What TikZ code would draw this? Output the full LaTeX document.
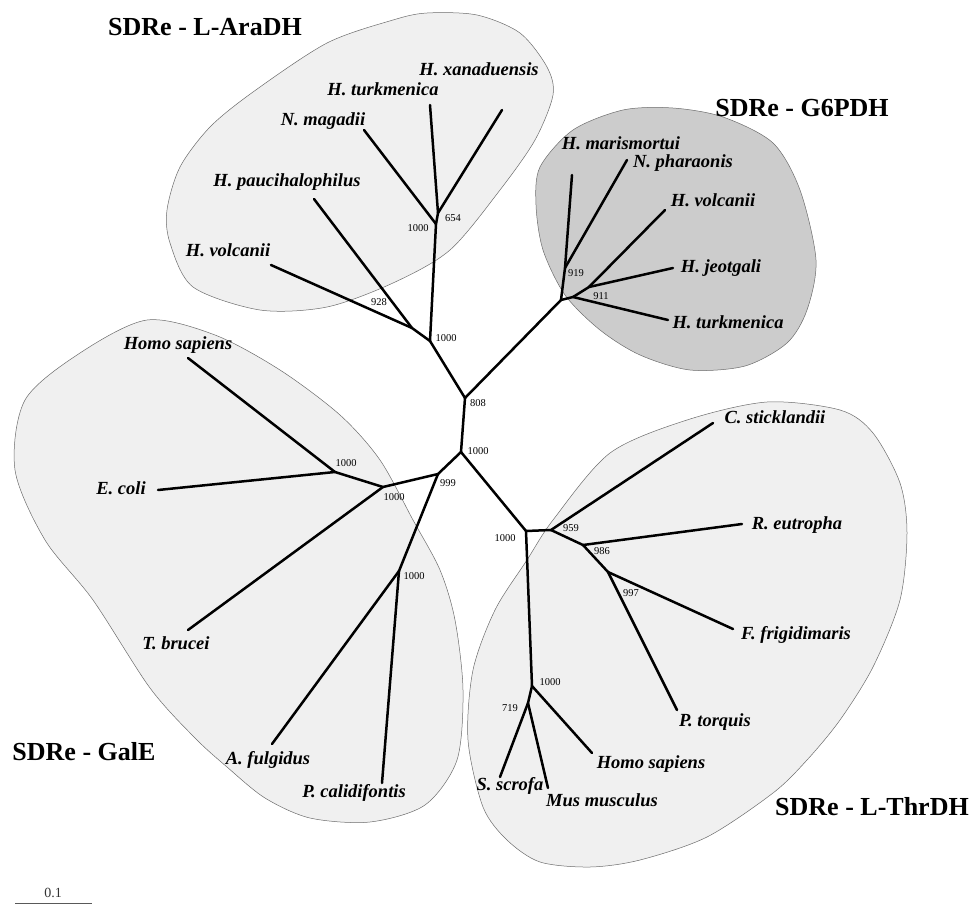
\documentclass[tikz,border=0pt]{standalone}
\usepackage{fontspec}
\setmainfont{Liberation Serif}
\begin{document}
\begin{tikzpicture}[x=1pt,y=-1pt,
  br/.style={line width=2.5pt, line cap=round, line join=round},
  sp/.style={font=\fontsize{18.5}{20}\selectfont\bfseries\itshape, inner sep=0pt},
  bs/.style={font=\fontsize{10.5}{12}\selectfont, inner sep=0pt},
  ttl/.style={font=\fontsize{26}{28}\selectfont\bfseries, inner sep=0pt},
  blob/.style={draw=gray!85!black, line width=0.5pt, fill=#1}]
\definecolor{lightblob}{RGB}{240,240,240}
\definecolor{darkblob}{RGB}{204,204,204}
\useasboundingbox (0,0) rectangle (975,905);

% ---- clade areas ----
\draw[blob=lightblob] plot[smooth cycle] coordinates {(253,92) (327,43) (393,20) (427,13) (477,15) (520,33) (547,67) (553,95) (535,140) (500,190) (450,250) (393,283) (327,307) (260,310) (193,287) (170,243) (167,210) (180,167) (210,127)};
\draw[blob=darkblob] plot[smooth cycle] coordinates {(540,167) (573,130) (623,110) (673,108) (723,117) (773,143) (800,190) (816,260) (807,310) (787,343) (745,366) (690,370) (640,355) (600,330) (565,295) (543,250) (536,205)};
\draw[blob=lightblob] plot[smooth cycle] coordinates {(147,320) (215,335) (280,370) (340,415) (380,460) (413,520) (440,570) (455,620) (463,690) (457,760) (425,805) (370,822) (310,818) (265,798) (227,767) (195,738) (150,688) (93,600) (45,540) (15,470) (25,400) (80,353)};
\draw[blob=lightblob] plot[smooth cycle] coordinates {(610,453) (687,420) (767,402) (840,410) (873,433) (900,483) (907,533) (900,600) (873,667) (840,720) (807,760) (773,793) (707,837) (640,860) (590,867) (540,862) (507,840) (483,807) (468,740) (473,670) (495,610) (527,560) (553,520)};

% ---- tree nodes ----
\coordinate (c0) at (461,452);
\coordinate (c808) at (465,398);
\coordinate (a1000) at (430,341);
\coordinate (a928) at (412,328);
\coordinate (a1000b) at (436,224);
\coordinate (a654) at (438,213);
\coordinate (lvol) at (271,265);
\coordinate (lpau) at (314,199);
\coordinate (lmag) at (364,130);
\coordinate (ltur) at (430,105);
\coordinate (lxan) at (502,110);
\coordinate (g0) at (561,300);
\coordinate (g919) at (565,268);
\coordinate (gx) at (573,297);
\coordinate (g911) at (589,287);
\coordinate (gmar) at (572,175);
\coordinate (gpha) at (627,160);
\coordinate (gvol) at (665,210);
\coordinate (gjeo) at (673,268);
\coordinate (gtur) at (668,320);
\coordinate (e999) at (438,474);
\coordinate (e1000a) at (383,487);
\coordinate (e1000b) at (335,472);
\coordinate (e1000c) at (399,571);
\coordinate (ehom) at (188,358);
\coordinate (ecol) at (158,490);
\coordinate (ebru) at (188,630);
\coordinate (eful) at (272,744);
\coordinate (ecal) at (382,783);
\coordinate (t1000) at (526,531);
\coordinate (t959) at (551,530);
\coordinate (t986) at (583,545);
\coordinate (t997) at (608,572);
\coordinate (t1000b) at (532,686);
\coordinate (t719) at (528,703);
\coordinate (tstk) at (713,423);
\coordinate (teut) at (742,524);
\coordinate (tfri) at (733,629);
\coordinate (ttor) at (677,710);
\coordinate (thom) at (592,753);
\coordinate (tscr) at (500,777);
\coordinate (tmus) at (548,788);

% ---- branches ----
\draw[br] (c0) -- (c808);
\draw[br] (c808) -- (a1000);
\draw[br] (a1000) -- (a928);
\draw[br] (a928) -- (lvol);
\draw[br] (a928) -- (lpau);
\draw[br] (a1000) -- (a1000b);
\draw[br] (a1000b) -- (lmag);
\draw[br] (a1000b) -- (a654);
\draw[br] (a654) -- (ltur);
\draw[br] (a654) -- (lxan);
\draw[br] (c808) -- (g0);
\draw[br] (g0) -- (g919);
\draw[br] (g919) -- (gmar);
\draw[br] (g919) -- (gpha);
\draw[br] (g0) -- (gx);
\draw[br] (gx) -- (gtur);
\draw[br] (gx) -- (g911);
\draw[br] (g911) -- (gvol);
\draw[br] (g911) -- (gjeo);
\draw[br] (c0) -- (e999);
\draw[br] (e999) -- (e1000a);
\draw[br] (e1000a) -- (e1000b);
\draw[br] (e1000b) -- (ehom);
\draw[br] (e1000b) -- (ecol);
\draw[br] (e1000a) -- (ebru);
\draw[br] (e999) -- (e1000c);
\draw[br] (e1000c) -- (eful);
\draw[br] (e1000c) -- (ecal);
\draw[br] (c0) -- (t1000);
\draw[br] (t1000) -- (t959);
\draw[br] (t959) -- (tstk);
\draw[br] (t959) -- (t986);
\draw[br] (t986) -- (teut);
\draw[br] (t986) -- (t997);
\draw[br] (t997) -- (tfri);
\draw[br] (t997) -- (ttor);
\draw[br] (t1000) -- (t1000b);
\draw[br] (t1000b) -- (thom);
\draw[br] (t1000b) -- (t719);
\draw[br] (t719) -- (tscr);
\draw[br] (t719) -- (tmus);

% ---- bootstrap values ----
\node[bs] (b1) at (478,451) {1000};
\node[bs] (b2) at (478,403) {808};
\node[bs] (b3) at (446,338) {1000};
\node[bs] (b4) at (379,302) {928};
\node[bs] (b5) at (418,228) {1000};
\node[bs] (b6) at (453,218) {654};
\node[bs] (b7) at (576,273) {919};
\node[bs] (b8) at (601,296) {911};
\node[bs] (b9) at (448,483) {999};
\node[bs] (b10) at (394,497) {1000};
\node[bs] (b11) at (346,463) {1000};
\node[bs] (b12) at (414,576) {1000};
\node[bs] (b13) at (505,538) {1000};
\node[bs] (b14) at (571,528) {959};
\node[bs] (b15) at (602,551) {986};
\node[bs] (b16) at (631,593) {997};
\node[bs] (b17) at (550,682) {1000};
\node[bs] (b18) at (510,708) {719};

% ---- species ----
\node[sp] (s1) at (479,69) {H. xanaduensis};
\node[sp] (s2) at (383,89) {H. turkmenica};
\node[sp] (s3) at (323,121) {N. magadii};
\node[sp] (s4) at (287,182) {H. paucihalophilus};
\node[sp] (s5) at (228,250) {H. volcanii};
\node[sp] (s6) at (621,143) {H. marismortui};
\node[sp] (s7) at (683,163) {N. pharaonis};
\node[sp] (s8) at (713,200) {H. volcanii};
\node[sp] (s9) at (721,268) {H. jeotgali};
\node[sp] (s10) at (728,322) {H. turkmenica};
\node[sp] (s11) at (178,345) {Homo sapiens};
\node[sp] (s12) at (121,488) {E. coli};
\node[sp] (s13) at (176,643) {T. brucei};
\node[sp] (s14) at (268,760) {A. fulgidus};
\node[sp] (s15) at (354,793) {P. calidifontis};
\node[sp] (s16) at (775,417) {C. sticklandii};
\node[sp] (s17) at (797,525) {R. eutropha};
\node[sp] (s18) at (796,635) {F. frigidimaris};
\node[sp] (s19) at (715,722) {P. torquis};
\node[sp] (s20) at (651,764) {Homo sapiens};
\node[sp] (s21) at (602,800) {Mus musculus};
\node[sp] (s22) at (510,786) {S. scrofa};

% ---- group titles ----
\node[ttl] (t1) at (205,27) {SDRe - L-AraDH};
\node[ttl] (t2) at (802,108) {SDRe - G6PDH};
\node[ttl] (t3) at (84,752) {SDRe - GalE};
\node[ttl] (t4) at (872,807) {SDRe - L-ThrDH};

% ---- scale bar ----
\coordinate (sb1) at (15,903);
\coordinate (sb2) at (92,903);
\draw[line width=0.8pt, gray!70!black] (sb1) -- (sb2);
\node[font=\fontsize{14}{16}\selectfont, inner sep=0pt, text=black!80] (sbl) at (53,893) {0.1};
\end{tikzpicture}
\end{document}
